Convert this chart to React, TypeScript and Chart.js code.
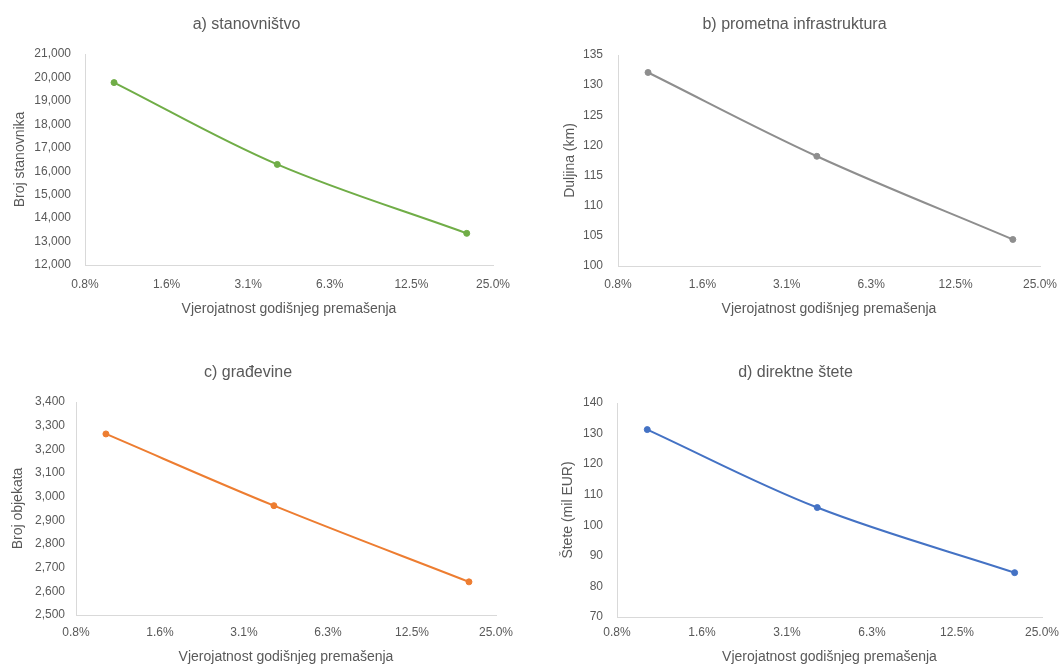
import React, { useEffect, useRef } from "react";
import { Chart, registerables } from "chart.js";

Chart.register(...registerables);

// ---- data ----
const probabilities = [0.01, 0.04, 0.2];
const xTickValues = [0.0078125, 0.015625, 0.03125, 0.0625, 0.125, 0.25];

const populationValues = [19780, 16290, 13350];
const roadLengthValues = [132.1, 118.2, 104.4];
const buildingValues = [3265, 2962, 2640];
const damageValues = [131.3, 105.8, 84.5];

const xAxisTitle = "Vjerojatnost godišnjeg premašenja";

const FONT = "'Liberation Sans', Arial, sans-serif";
const TEXT = "#595959";
const AXIS = "#D9D9D9";

type Panel = {
  title: string;
  yTitle: string;
  values: number[];
  color: string;
  yMin: number;
  yMax: number;
  yStep: number;
  thousands: boolean;
  left: number;
  top: number;
  width: number;
  height: number;
  yAxisWidth: number;
  xAxisHeight: number;
  padRight: number;
  titlePadTop: number;
  titlePadBottom: number;
  yTitlePad: number;
  yTickPad: number;
  xTickPad: number;
  xTitlePad: number;
};

const panels: Panel[] = [
  {
    title: "a) stanovništvo", yTitle: "Broj stanovnika", values: populationValues, color: "#70AD47",
    yMin: 12000, yMax: 21000, yStep: 1000, thousands: true,
    left: 0, top: 0, width: 512, height: 330,
    yAxisWidth: 85, xAxisHeight: 65, padRight: 19, titlePadTop: 15.4, titlePadBottom: 19.4,
    yTitlePad: 11.6, yTickPad: 14, xTickPad: 12.8, xTitlePad: 12.6,
  },
  {
    title: "b) prometna infrastruktura", yTitle: "Duljina (km)", values: roadLengthValues, color: "#8E8E8E",
    yMin: 100, yMax: 135, yStep: 5, thousands: false,
    left: 549, top: 0, width: 512, height: 330,
    yAxisWidth: 69, xAxisHeight: 64, padRight: 21, titlePadTop: 15.4, titlePadBottom: 20.4,
    yTitlePad: 12.6, yTickPad: 15, xTickPad: 11.8, xTitlePad: 12.6,
  },
  {
    title: "c) građevine", yTitle: "Broj objekata", values: buildingValues, color: "#ED7D31",
    yMin: 2500, yMax: 3400, yStep: 100, thousands: true,
    left: 0, top: 340, width: 516, height: 326,
    yAxisWidth: 76, xAxisHeight: 51, padRight: 20, titlePadTop: 23.4, titlePadBottom: 19.4,
    yTitlePad: 9.6, yTickPad: 11, xTickPad: 10.8, xTitlePad: 0.6,
  },
  {
    title: "d) direktne štete", yTitle: "Štete (mil EUR)", values: damageValues, color: "#4472C4",
    yMin: 70, yMax: 140, yStep: 10, thousands: false,
    left: 549, top: 340, width: 512, height: 326,
    yAxisWidth: 68, xAxisHeight: 49, padRight: 19, titlePadTop: 23.4, titlePadBottom: 20.4,
    yTitlePad: 10.6, yTickPad: 14, xTickPad: 8.8, xTitlePad: 0.6,
  },
];

function PanelChart({ p }: { p: Panel }) {
  const ref = useRef<HTMLCanvasElement | null>(null);
  useEffect(() => {
    if (!ref.current) return;
    const chart = new Chart(ref.current, {
      type: "line",
      data: {
        datasets: [
          {
            data: probabilities.map((x, i) => ({ x, y: p.values[i] })),
            borderColor: p.color,
            backgroundColor: p.color,
            borderWidth: 2,
            pointRadius: 3,
            pointBorderWidth: 1,
            tension: 0.35,
            fill: false,
          },
        ],
      },
      options: {
        responsive: false,
        animation: false,
        devicePixelRatio: 1,
        layout: { padding: { left: 0, top: 0, bottom: 0, right: p.padRight } },
        plugins: {
          legend: { display: false },
          tooltip: { enabled: false },
          title: {
            display: true,
            text: p.title,
            color: TEXT,
            font: { family: FONT, size: 16, weight: "normal" },
            padding: { top: p.titlePadTop, bottom: p.titlePadBottom },
          },
        },
        scales: {
          x: {
            type: "logarithmic",
            min: xTickValues[0],
            max: xTickValues[xTickValues.length - 1],
            afterBuildTicks: (scale: any) => {
              scale.ticks = xTickValues.map((v) => ({ value: v }));
            },
            afterFit: (scale: any) => {
              scale.height = p.xAxisHeight;
              scale.paddingLeft = 0;
              scale.paddingRight = 0;
            },
            grid: { display: false, drawTicks: false },
            border: { display: true, color: AXIS, width: 1 },
            ticks: {
              autoSkip: false,
              maxRotation: 0,
              padding: p.xTickPad,
              color: TEXT,
              font: { family: FONT, size: 12 },
              callback: (v: any) => (Number(v) * 100).toFixed(1) + "%",
            },
            title: {
              display: true,
              text: xAxisTitle,
              color: TEXT,
              font: { family: FONT, size: 14 },
              padding: { top: 0, bottom: p.xTitlePad },
            },
          },
          y: {
            type: "linear",
            min: p.yMin,
            max: p.yMax,
            afterFit: (scale: any) => {
              scale.width = p.yAxisWidth;
              scale.paddingTop = 0;
              scale.paddingBottom = 0;
            },
            grid: { display: false, drawTicks: false },
            border: { display: true, color: AXIS, width: 1 },
            ticks: {
              stepSize: p.yStep,
              padding: p.yTickPad,
              color: TEXT,
              font: { family: FONT, size: 12 },
              callback: (v: any) =>
                p.thousands ? Number(v).toLocaleString("en-US") : String(v),
            },
            title: {
              display: true,
              text: p.yTitle,
              color: TEXT,
              font: { family: FONT, size: 14 },
              padding: { top: p.yTitlePad, bottom: 0 },
            },
          },
        },
      } as any,
    });
    return () => chart.destroy();
  }, [p]);
  return (
    <canvas
      ref={ref}
      width={p.width}
      height={p.height}
      style={{
        position: "absolute",
        left: p.left,
        top: p.top,
        width: p.width,
        height: p.height,
      }}
    />
  );
}

export default function App() {
  return (
    <div
      style={{
        position: "fixed",
        left: 0,
        top: 0,
        width: 1061,
        height: 666,
        background: "#ffffff",
        overflow: "hidden",
      }}
    >
      {panels.map((p, i) => (
        <PanelChart key={i} p={p} />
      ))}
    </div>
  );
}
